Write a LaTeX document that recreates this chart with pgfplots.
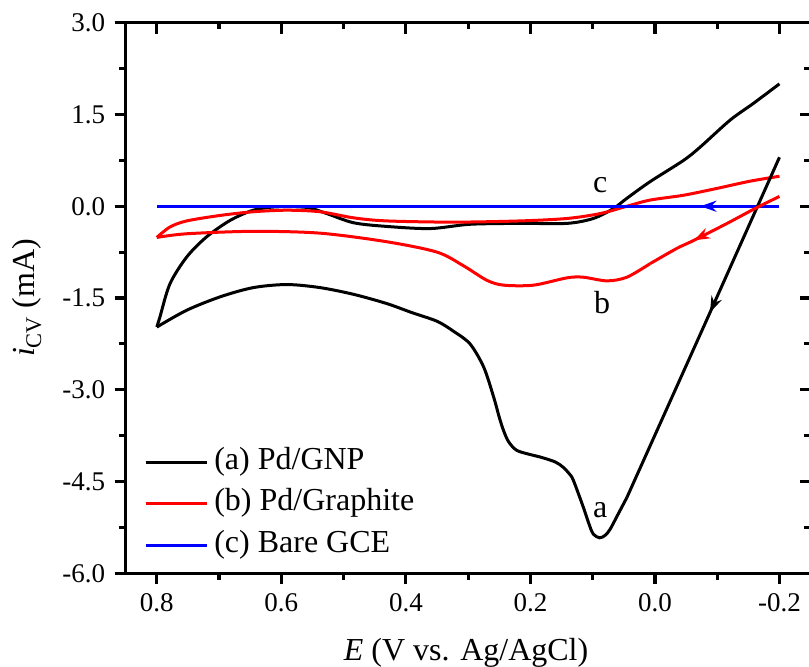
\documentclass[border=0pt]{standalone}
\usepackage{pgfplots}
\pgfplotsset{compat=1.18}
\usepackage{fontspec}
\setmainfont{Liberation Serif}
\usetikzlibrary{arrows.meta,decorations.markings}

\begin{document}
\begin{tikzpicture}[x=1pt,y=1pt]
\useasboundingbox (0,0) rectangle (809,667);
\pgfplotsset{
 mybase/.style={
  at={(125.7pt,93.7pt)}, anchor=south west,
  width=684.9pt, height=550.6pt, scale only axis,
  x dir=reverse, xmin=-0.25, xmax=0.85, ymin=-6, ymax=3,
  xtick={-0.2,0,0.2,0.4,0.6,0.8}, minor xtick={-0.1,0.1,0.3,0.5,0.7},
  ytick={-6,-4.5,-3,-1.5,0,1.5,3}, minor ytick={-5.25,-3.75,-2.25,-0.75,0.75,2.25},
  axis line style={line width=3.4pt},
  major tick length=11pt, minor tick length=6.5pt,
  every tick/.style={line width=3.2pt, black},
 }
}
\begin{axis}[mybase, tick pos=left, tick align=outside,
  /pgf/number format/fixed, /pgf/number format/fixed zerofill,
  /pgf/number format/precision=1, /pgf/number format/assume math mode=true,
  ticklabel style={font=\fontsize{27}{32}\selectfont},
  xticklabel style={yshift=-6pt},
  yticklabel style={xshift=-6pt},
  xlabel={\textit{E} (V vs. Ag/AgCl)},
  ylabel={\textit{i}\textsubscript{CV} (mA)},
  label style={font=\fontsize{32}{38}\selectfont},
  xlabel style={at={(axis description cs:0.497,-0.1575)}, anchor=base},
  ylabel style={at={(axis description cs:-0.144,0.5)}, anchor=center},
  legend style={draw=none, fill=none, at={(axis description cs:0.0266,0.240)}, anchor=north west,
    font=\fontsize{32}{38}\selectfont, row sep=0pt, column sep=6pt, inner sep=0pt,
    nodes={inner sep=0pt, text height=28pt, text depth=13.5pt}},
  legend cell align=left,
  legend image code/.code={\draw[#1] (0pt,0pt) -- (61pt,0pt);},
]
% (a) Pd/GNP upper branch
\addplot[black, line width=3pt, smooth] coordinates {
(0.800,-1.975)(0.795,-1.81)(0.779,-1.27)(0.752,-0.83)(0.720,-0.50)(0.682,-0.23)(0.645,-0.065)
(0.608,-0.01)(0.559,-0.02)(0.527,-0.12)(0.484,-0.27)(0.431,-0.33)(0.361,-0.365)(0.297,-0.295)
(0.216,-0.28)(0.141,-0.28)(0.099,-0.20)(0.067,-0.04)(0.045,0.13)(0.008,0.40)(-0.046,0.75)
(-0.073,0.97)(-0.121,1.41)(-0.158,1.68)(-0.200,2.00)};
\addlegendentry{(a) Pd/GNP}
% (b) Pd/Graphite upper branch
\addplot[red, line width=3pt, smooth] coordinates {
(0.800,-0.51)(0.779,-0.34)(0.752,-0.24)(0.698,-0.15)(0.645,-0.09)(0.591,-0.065)(0.538,-0.09)
(0.484,-0.19)(0.431,-0.24)(0.324,-0.26)(0.216,-0.24)(0.141,-0.20)(0.088,-0.12)(0.045,0.00)
(0.008,0.10)(-0.046,0.18)(-0.099,0.29)(-0.153,0.41)(-0.200,0.49)};
\addlegendentry{(b) Pd/Graphite}
% (c) Bare GCE
\addplot[blue, line width=3.2pt] coordinates {(-0.2,0)(0.8,0)};
\addlegendentry{(c) Bare GCE}
% arrows and remaining branches
\addplot[blue, line width=3.2pt, forget plot, postaction={decorate},
  decoration={markings, mark=at position 0.635 with {\arrow{Stealth[length=16pt,width=11pt]}}}]
  coordinates {(-0.2,0)(0.0,0)};
\addplot[black, line width=3pt, forget plot, postaction={decorate},
  decoration={markings, mark=at position 0.456 with {\arrow{Stealth[length=16pt,width=11pt]}}}]
  coordinates {(-0.2,0.80)(-0.078,-1.975)(0.045,-4.76)};
\addplot[black, line width=3pt, smooth, forget plot] coordinates {
(0.045,-4.76)(0.060,-5.05)(0.072,-5.28)(0.080,-5.38)(0.089,-5.42)(0.099,-5.36)(0.105,-5.22)
(0.115,-4.92)(0.131,-4.48)(0.137,-4.38)(0.147,-4.27)(0.160,-4.18)(0.184,-4.10)(0.200,-4.06)
(0.222,-3.99)(0.235,-3.85)(0.243,-3.67)(0.250,-3.45)(0.259,-3.12)(0.275,-2.63)
(0.297,-2.25)(0.324,-2.04)(0.350,-1.88)(0.390,-1.74)(0.431,-1.59)(0.484,-1.44)(0.538,-1.33)
(0.591,-1.28)(0.645,-1.33)(0.698,-1.48)(0.752,-1.70)(0.800,-1.975)};
\addplot[red, line width=3pt, smooth, forget plot, postaction={decorate},
  decoration={markings, mark=at position 0.66 with {\arrow{Stealth[length=16pt,width=11pt]}}}]
  coordinates {(-0.2,0.16)(-0.164,-0.02)(-0.116,-0.28)(-0.062,-0.56)(-0.035,-0.69)(0.008,-0.94)};
\addplot[red, line width=3pt, smooth, forget plot] coordinates {
(0.008,-0.94)(0.045,-1.16)(0.077,-1.22)(0.115,-1.16)(0.141,-1.17)(0.195,-1.29)(0.243,-1.29)
(0.270,-1.21)(0.308,-0.97)(0.350,-0.75)(0.431,-0.58)(0.538,-0.44)(0.645,-0.41)(0.752,-0.45)
(0.800,-0.51)};
\node[font=\fontsize{32}{38}\selectfont, anchor=base] at (axis cs:0.088,0.218) {c};
\node[font=\fontsize{32}{38}\selectfont, anchor=base] at (axis cs:0.085,-1.756) {b};
\node[font=\fontsize{32}{38}\selectfont, anchor=base] at (axis cs:0.088,-5.085) {a};
\end{axis}
\begin{axis}[mybase, tick pos=right, tick align=inside, xticklabels={}, yticklabels={}]
\end{axis}
\end{tikzpicture}
\end{document}
